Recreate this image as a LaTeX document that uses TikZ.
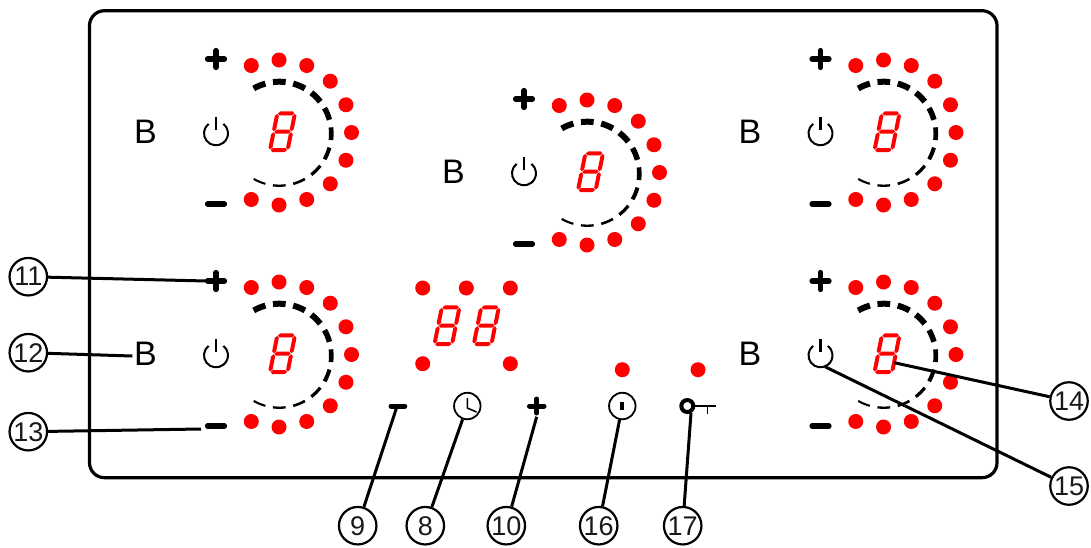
\documentclass[tikz,border=0pt]{standalone}
\usepackage{fontspec}
\setmainfont{Liberation Sans}
\definecolor{ledred}{RGB}{255,0,0}
\tikzset{
  panel/.style={draw=black,line width=3.2pt,rounded corners=15pt},
  led/.style={fill=ledred,draw=none,circle,minimum size=15pt,inner sep=0pt},
  keyline/.style={line width=5.2pt,line cap=round,black},
  thinkey/.style={line width=2pt,black},
  callout/.style={draw=black,line width=2.2pt,circle,minimum size=37.5pt,inner sep=0pt,fill=white,font=\fontsize{27}{27}\selectfont,text=black!90},
  leader/.style={line width=3pt,black},
  zonelabel/.style={font=\fontsize{34}{34}\selectfont,inner sep=0pt,text=black}
}
% seven-segment digit in local, slanted coordinates
\newcommand{\hsegm}[1]{\fill[ledred] (-8.2,#1)--(-6.2,#1-2)--(6.2,#1-2)--(8.2,#1)--(6.2,#1+2)--(-6.2,#1+2)--cycle;}
\newcommand{\vsegm}[3]{\fill[ledred] (#1,#2+0.5)--(#1+2,#2+2.5)--(#1+2,#3-2.5)--(#1,#3-0.5)--(#1-2,#3-2.5)--(#1-2,#2+2.5)--cycle;}
\newcommand{\sevenseg}[2]{%
  \begin{scope}[shift={(#1,#2)},xslant=0.2]
    \hsegm{-18.3}\hsegm{0}\hsegm{18.3}
    \vsegm{-8.8}{-18.3}{0}\vsegm{8.8}{-18.3}{0}
    \vsegm{-8.8}{0}{18.3}\vsegm{8.8}{0}{18.3}
  \end{scope}}
\newcommand{\powericon}{%
  \draw[thinkey] ([shift={(0,0.8)}]128:12pt) arc[start angle=128,end angle=412,radius=12pt];
  \draw[thinkey,line width=2.4pt] (0,-16) -- (0,-3);}
\newcommand{\zone}[3]{%
  \begin{scope}[shift={(#2,#3)}]
    \foreach \i in {0,...,10} {
      \pgfmathsetmacro{\ang}{112.5-\i*22.5}
      \node[led] (#1-led\i) at (\ang:72.5pt) {};
    }
    \foreach \a/\w in {112.5/6,90/6,67.5/6,45/6,22.5/5.5,0/4.6,-22.5/4,-45/3.2,-67.5/2.6,-90/2.3,-112.5/2.1} {
      \draw[line width=\w pt,black] ([shift={(0.3,1.2)}]\a+7:52pt) arc[start angle=\a+7,end angle=\a-7,radius=52pt];
    }
    \sevenseg{3.5}{-0.8}
    \draw[keyline] (-71.5,-73.5) -- (-54.5,-73.5);
    \draw[keyline] (-63,-82) -- (-63,-65);
    \draw[keyline] (-71.5,71.5) -- (-54.5,71.5);
    \begin{scope}[shift={(-63,0)}]\powericon\end{scope}
    \node[zonelabel] (#1-B) at (-133.5,-0.5) {B};
  \end{scope}}
\begin{document}
\begin{tikzpicture}[x=1pt,y=-1pt]
\useasboundingbox (0,0) rectangle (1091,547);
\fill[white] (0,0) rectangle (1091,547);
\draw[panel] (89.5,10.7) rectangle (997,477.7);

\zone{za}{279}{132.5}
\zone{zb}{883.5}{132.5}
\zone{zc}{587}{172.5}
\zone{zd}{279}{354.5}
\zone{ze}{883.5}{354.5}

% timer section
\foreach \n/\x/\y in {t1/422.7/288,t2/466.3/288,t3/510.3/288,t4/422.7/363.7,t5/510.3/363.7,t6/622.3/369.7,t7/698/369.7}
  \node[led] (\n) at (\x,\y) {};
\sevenseg{447}{325.7}
\sevenseg{486.3}{325.7}
\draw[keyline,line width=5pt] (391,406) -- (404.8,406);
\node[draw=black,line width=1.8pt,circle,minimum size=26.5pt,inner sep=0pt] (clock) at (467.3,406) {};
\draw[line width=1.6pt,black] (467.3,398) -- (467.3,408) -- (476.5,412);
\draw[keyline,line width=5pt] (529.5,406) -- (544,406);
\draw[keyline,line width=5pt] (536.7,399) -- (536.7,413);
\node[draw=black,line width=1.8pt,circle,minimum size=26.5pt,inner sep=0pt] (onoff) at (622.3,406) {};
\draw[line width=4pt,black] (622.3,402.3) -- (622.3,410);
\node[draw=black,line width=4pt,circle,minimum size=12pt,inner sep=0pt] (keyring) at (687.3,406) {};
\draw[line width=2.6pt,black] (keyring.east) -- (715.7,406);
\draw[line width=1pt,black] (707,406) -- (707,414);

% callouts
\node[callout] (c11) at (28.3,276.7) {11};
\node[callout] (c12) at (28.3,352.7) {12};
\node[callout] (c13) at (28.3,431.7) {13};
\node[callout] (c9) at (357.7,525.7) {9};
\node[callout] (c8) at (425.3,525.7) {8};
\node[callout] (c10) at (506.3,525.7) {10};
\node[callout] (c16) at (598.7,525.7) {16};
\node[callout] (c17) at (682.7,525.7) {17};
\node[callout] (c14) at (1069,401) {14};
\node[callout] (c15) at (1069,486) {15};

\coordinate (e11) at (206.7,281);
\coordinate (e12) at (132.3,356);
\coordinate (e13) at (201,429);
\coordinate (e9) at (396.7,407.3);
\coordinate (e10) at (536.7,416.7);
\coordinate (e17) at (691,413);
\coordinate (e14) at (894.3,362.7);
\coordinate (e15) at (825,366.7);

\draw[leader] (c11) -- (e11);
\draw[leader] (c12) -- (e12);
\draw[leader] (c13) -- (e13);
\draw[leader] (c9) -- (e9);
\draw[leader] (c8) -- (clock);
\draw[leader] (c10) -- (e10);
\draw[leader] (c16) -- (onoff);
\draw[leader] (c17) -- (e17);
\draw[leader] (c14) -- (e14);
\draw[leader] (c15) -- (e15);
\end{tikzpicture}
\end{document}
